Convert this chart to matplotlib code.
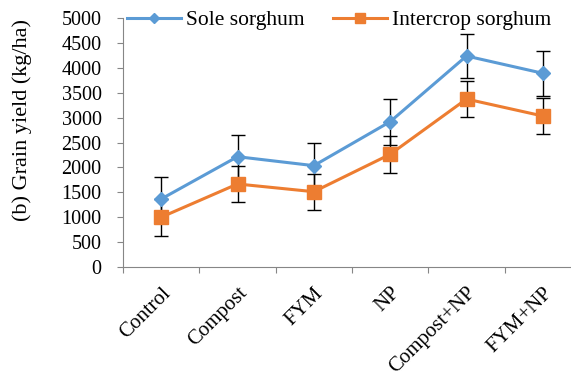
import matplotlib
matplotlib.use("Agg")
import matplotlib.pyplot as plt
from matplotlib.lines import Line2D
import numpy as np

categories = ["Control", "Compost", "FYM", "NP", "Compost+NP", "FYM+NP"]
sole = [1365, 2215, 2035, 2918, 4237, 3890]
sole_err = [450, 445, 460, 460, 450, 455]
inter = [1000, 1667, 1512, 2263, 3373, 3032]
inter_err = [370, 370, 365, 370, 367, 367]
yticks = list(range(0, 5001, 500))

BLUE = "#5B9BD5"
ORANGE = "#ED7D31"
GRAY = "#868686"

plt.rcParams["font.family"] = ["Liberation Serif", "DejaVu Serif"]

fig = plt.figure(figsize=(5.71, 3.71), dpi=100)
ax = fig.add_axes([123/571, (371-267)/371, 458/571, (267-18)/371])

x = np.arange(len(categories))

ax.errorbar(x, sole, yerr=sole_err, fmt="none", ecolor="black", elinewidth=1.0,
            capsize=4.7, capthick=1.0, zorder=2)
ax.errorbar(x, inter, yerr=inter_err, fmt="none", ecolor="black", elinewidth=1.0,
            capsize=4.7, capthick=1.0, zorder=2)
ax.plot(x, sole, color=BLUE, lw=2.2, marker="D", ms=6.8, zorder=3,
        solid_capstyle="round", solid_joinstyle="round")
ax.plot(x, inter, color=ORANGE, lw=2.2, marker="s", ms=9.5, zorder=3,
        solid_capstyle="round", solid_joinstyle="round")

ax.set_xlim(-0.5, len(categories) - 0.5)
ax.set_ylim(0, 5000)
ax.set_yticks(yticks)
ax.tick_params(axis="y", direction="out", length=4.3, width=0.8, color=GRAY,
               labelsize=14.5, pad=11)
ax.set_xticks(x)
ax.set_xticklabels(categories, rotation=45, ha="right", va="top",
                   rotation_mode="anchor", fontsize=15)
ax.tick_params(axis="x", which="major", length=0, pad=12)
ax.set_xticks(np.arange(-0.5, len(categories), 1.0), minor=True)
ax.tick_params(axis="x", which="minor", direction="out", length=4.3, width=0.8,
               color=GRAY)

for s in ["top", "right"]:
    ax.spines[s].set_visible(False)
for s in ["left", "bottom"]:
    ax.spines[s].set_color(GRAY)
    ax.spines[s].set_linewidth(0.8)

fig.text(22/571, (371-120)/371, "(b) Grain yield (kg/ha)", rotation=90,
         ha="center", va="center", fontsize=16)

handles = [
    Line2D([], [], color=BLUE, lw=2.2, marker="D", ms=5),
    Line2D([], [], color=ORANGE, lw=2.2, marker="s", ms=6.5),
]
fig.legend(handles, ["Sole sorghum", "Intercrop sorghum"], loc="center left",
           bbox_to_anchor=(127/571, (371-20)/371), ncol=2, frameon=False,
           fontsize=15.5, handlelength=2.5, handletextpad=0.25, columnspacing=1.3,
           borderpad=0, borderaxespad=0)

fig.savefig("out.png", dpi=100)
